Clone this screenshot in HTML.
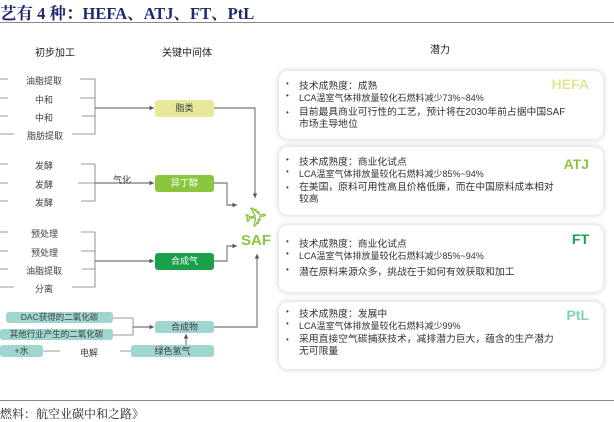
<!DOCTYPE html>
<html><head><meta charset="utf-8"><style>
body{margin:0;width:614px;height:419px;background:#fff;position:relative;overflow:hidden;font-family:"Liberation Sans","Noto Sans CJK SC",sans-serif;color:#404040}
.a{position:absolute}
.t{font-size:9px;white-space:nowrap}
.box{position:absolute;border-radius:3px;font-size:9px;text-align:center;line-height:17px}
.card{position:absolute;left:279px;width:324px;background:#fff;border-radius:9px;box-shadow:0 0 4px 2px #e4e4e4}
.card .l{position:absolute;left:20px;font-size:9px;white-space:nowrap;color:#333}
.card .m{font-size:9.8px}
.card .b{position:absolute;left:7px;font-size:8px}
.card .k{position:absolute;right:14px;font-size:14px;font-weight:bold}
</style></head><body>
<div class="a" style="left:0;top:0px;font-family:'Liberation Serif','Noto Serif CJK SC',serif;font-weight:bold;font-size:16.5px;color:#1f2a6e;white-space:nowrap">艺有 4 种：HEFA、ATJ、FT、PtL</div>
<div class="a" style="left:0;top:22px;width:614px;height:1px;background:#888"></div>
<div class="a t" style="left:35px;top:44px;font-size:10px;color:#222">初步加工</div>
<div class="a t" style="left:162px;top:44px;font-size:10px;color:#222">关键中间体</div>
<div class="a t" style="left:430px;top:41px;font-size:10px;color:#222">潜力</div>

<svg class="a" style="left:0;top:0" width="614" height="419">
<defs><marker id="m" markerWidth="6" markerHeight="6" refX="5" refY="3" orient="auto"><path d="M0,0.5L5,3L0,5.5z" fill="#555"/></marker></defs>
<g stroke="#777" stroke-width="0.8" fill="none">
<path d="M0,79H8M0,98H8M0,116H8M0,134H14M0,164H8M0,183H8M0,201H8M0,232H8M0,251H8M0,269H8M0,287H14"/>
<path d="M80,79H95M80,98H95M82,116H95M72,134H95V79M95,108H152" />
<path d="M81,164H95M78,183H95M81,201H95V164M95,183H152"/>
<path d="M81,232H95M81,251H95M82,269H95M72,287H95V232M95,261H152"/>
<path d="M113,318H133M113,335H133V318M133,327H152"/>
<path d="M43,351H60M120,351H132"/>
</g>
<g stroke="#555" stroke-width="0.9" fill="none" marker-end="url(#m)">
<path d="M95,108H154"/><path d="M95,183H154"/><path d="M95,261H154"/><path d="M133,327H154"/>
<path d="M214,108H255V198"/>
<path d="M214,183H227V205H237"/>
<path d="M214,261H227V246H237"/>
<path d="M214,327H257V254"/>
<path d="M186,345V334"/>
</g>
<text x="256" y="226" text-anchor="middle" font-family="DejaVu Sans" font-size="26" fill="none" stroke="#8cc63f" stroke-width="1.3" transform="rotate(-10 256 217)">✈</text>
<text x="241" y="245" font-family="Liberation Sans" font-weight="bold" font-size="15" fill="#8cc63f">SAF</text>
</svg>

<div class="a t" style="left:26px;top:74px">油脂提取</div>
<div class="a t" style="left:35px;top:93px">中和</div>
<div class="a t" style="left:35px;top:111px">中和</div>
<div class="a t" style="left:27px;top:129px">脂肪提取</div>
<div class="a t" style="left:35px;top:159px">发酵</div>
<div class="a t" style="left:35px;top:178px">发酵</div>
<div class="a t" style="left:35px;top:196px">发酵</div>
<div class="a t" style="left:31px;top:227px">预处理</div>
<div class="a t" style="left:31px;top:246px">预处理</div>
<div class="a t" style="left:26px;top:264px">油脂提取</div>
<div class="a t" style="left:35px;top:282px">分离</div>
<div class="a t" style="left:113px;top:173px">气化</div>
<div class="a t" style="left:80px;top:346px">电解</div>

<div class="box" style="left:155px;top:100px;width:59px;height:17px;background:#e6e89a">脂类</div>
<div class="box" style="left:155px;top:175px;width:59px;height:17px;background:#8cc63f;color:#fff">异丁醇</div>
<div class="box" style="left:155px;top:253px;width:59px;height:17px;background:#1aa04a;color:#fff">合成气</div>
<div class="box" style="left:155px;top:321px;width:59px;height:12px;line-height:12px;background:#9fd6d0">合成物</div>
<div class="box" style="left:6px;top:312px;width:107px;height:11px;line-height:11px;background:#9fd6d0;font-size:8.5px">DAC获得的二氧化碳</div>
<div class="box" style="left:0;top:329px;width:113px;height:11px;line-height:11px;background:#9fd6d0;font-size:8.5px">其他行业产生的二氧化碳</div>
<div class="box" style="left:0;top:345px;width:43px;height:12px;line-height:12px;background:#9fd6d0">+水</div>
<div class="box" style="left:131px;top:345px;width:83px;height:12px;line-height:12px;background:#9fd6d0">绿色氢气</div>

<div class="card" style="top:71px;height:68px">
<div class="b" style="top:8px">•</div><div class="l m" style="top:7px">技术成熟度：成熟</div>
<div class="b" style="top:20px">•</div><div class="l" style="top:20px">LCA温室气体排放量较化石燃料减少73%~84%</div>
<div class="b" style="top:37px">•</div><div class="l m" style="top:36px;line-height:12px">目前最具商业可行性的工艺，预计将在2030年前占据中国SAF<br>市场主导地位</div>
<div class="k" style="top:5px;color:#e2e48f">HEFA</div>
</div>
<div class="card" style="top:147px;height:68px">
<div class="b" style="top:8px">•</div><div class="l m" style="top:7px">技术成熟度：商业化试点</div>
<div class="b" style="top:20px">•</div><div class="l" style="top:20px">LCA温室气体排放量较化石燃料减少85%~94%</div>
<div class="b" style="top:36px">•</div><div class="l m" style="top:35px;line-height:12px">在美国，原料可用性高且价格低廉，而在中国原料成本相对<br>较高</div>
<div class="k" style="top:9px;color:#8cc63f">ATJ</div>
</div>
<div class="card" style="top:225px;height:67px">
<div class="b" style="top:12px">•</div><div class="l m" style="top:11px">技术成熟度：商业化试点</div>
<div class="b" style="top:24px">•</div><div class="l" style="top:24px">LCA温室气体排放量较化石燃料减少85%~94%</div>
<div class="b" style="top:40px">•</div><div class="l m" style="top:39px">潜在原料来源众多，挑战在于如何有效获取和加工</div>
<div class="k" style="top:6px;color:#1aa04a">FT</div>
</div>
<div class="card" style="top:302px;height:67px">
<div class="b" style="top:5px">•</div><div class="l m" style="top:4px">技术成熟度：发展中</div>
<div class="b" style="top:17px">•</div><div class="l" style="top:17px">LCA温室气体排放量较化石燃料减少99%</div>
<div class="b" style="top:33px">•</div><div class="l m" style="top:32px;line-height:12px">采用直接空气碳捕获技术，减排潜力巨大，蕴含的生产潜力<br>无可限量</div>
<div class="k" style="top:5px;color:#7fd1b9">PtL</div>
</div>

<div class="a" style="left:0;top:400px;width:614px;height:1px;background:#888"></div>
<div class="a t" style="left:0;top:405px;font-family:'Liberation Serif','Noto Serif CJK SC',serif;font-size:12px;color:#222">燃料：航空业碳中和之路》</div>
</body></html>
